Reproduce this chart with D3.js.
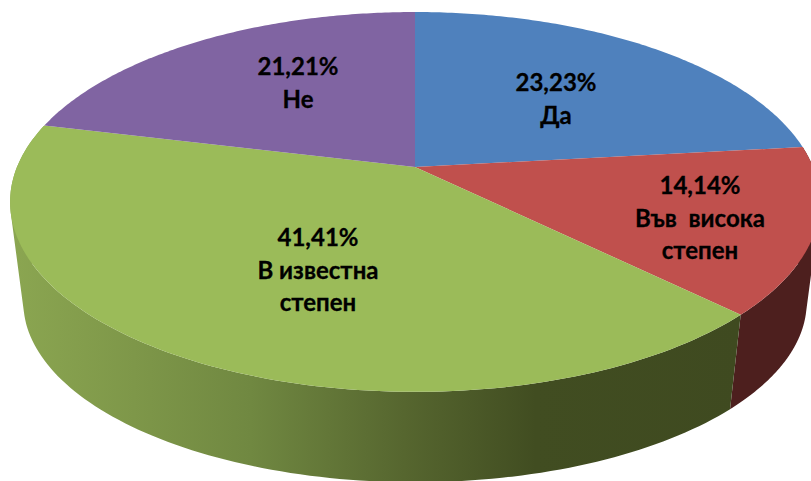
<!DOCTYPE html>
<html>
<head>
<meta charset="utf-8">
<script src="https://cdn.jsdelivr.net/npm/d3@7"></script>
<style>
  html, body { margin: 0; padding: 0; background: #fff; overflow: hidden; }
  svg { display: block; }
</style>
</head>
<body>
<div id="chart"></div>
<script>
// data, clockwise from 12 o'clock
const categories = ["Да", "Във висока степен", "В известна степен", "Не"];
const values = [23.23, 14.14, 41.41, 21.21];
const labelLines = [["Да"], ["Във  висока", "степен"], ["В известна", "степен"], ["Не"]];
const topColors = ["#4f81bd", "#c0504d", "#9bbb59", "#8064a2"];

const width = 811, height = 481;

// label centres (first line), picked by eye
const labelAt = [[556, 83], [700, 186], [318, 238], [298, 67]];
const lineStep = 32.5;

// perspective of the disc: top face and bottom rim
const tilt = 0.184;
const topFace = { x0: 415, y0: 167, a: 398, b: 183.5 };
const bottomRim = { x0: 415, y0: 269, a: 385, b: 174 };

function project(face, angle, r = 1) {
    const u = r * Math.sin(angle), v = -r * Math.cos(angle);
    const w = 1 - tilt * v;
    return [face.x0 + face.a * u / w, face.y0 + face.b * v / w];
}

const rim = (face, a0, a1) => d3.range(0, 1.0001, 1 / 120)
    .map(t => project(face, a0 + (a1 - a0) * t));

const line = d3.line();
const percent = d3.formatLocale({ decimal: ",", thousands: " ", grouping: [3], currency: ["", ""] }).format(".2f");

const arcs = d3.pie().sort(null).value(d => d)(values);

const svg = d3.select("#chart")
    .append("svg")
    .attr("width", width)
    .attr("height", height)
    .attr("viewBox", `0 0 ${width} ${height}`);

// green wall is shaded from left to right
const grad = svg.append("defs").append("linearGradient")
    .attr("id", "greenWall")
    .attr("gradientUnits", "userSpaceOnUse")
    .attr("x1", 10).attr("x2", 740).attr("y1", 0).attr("y2", 0);
grad.selectAll("stop")
    .data([[0, "#8ba651"], [0.17, "#7e9749"], [0.33, "#708841"], [0.54, "#56662f"], [0.72, "#414d21"], [1, "#3f4a20"]])
    .enter().append("stop")
    .attr("offset", d => d[0])
    .attr("stop-color", d => d[1]);

// side walls first, the top face covers whatever is behind it
// one path of many small quads, so the outline follows the disc edge with no seams.
// all quads wound the same way, otherwise they cancel out near the silhouette
const wallFill = { 1: "#4d1f1e", 2: "url(#greenWall)" };
[1, 2].forEach(i => {
    const d = arcs[i];
    const upper = rim(topFace, d.startAngle, d.endAngle);
    const lower = rim(bottomRim, d.startAngle, d.endAngle);
    const quads = d3.pairs(d3.range(upper.length)).map(([a, b]) => {
        const q = [upper[a], upper[b], lower[b], lower[a]];
        if (d3.polygonArea(q) < 0) q.reverse();
        return line(q) + "Z";
    });
    svg.append("path")
        .attr("d", quads.join(""))
        .attr("fill", wallFill[i]);
});

// top face
svg.selectAll(".slice")
    .data(arcs)
    .enter()
    .append("path")
    .attr("class", "slice")
    .attr("d", d => line([project(topFace, 0, 0)].concat(rim(topFace, d.startAngle, d.endAngle))) + "Z")
    .attr("fill", (d, i) => topColors[i]);

// labels
const label = svg.selectAll(".label")
    .data(arcs)
    .enter()
    .append("text")
    .attr("class", "label")
    .attr("text-anchor", "middle")
    .style("font-family", "Lato, 'Open Sans', sans-serif")
    .style("font-size", "24px")
    .style("font-weight", 700)
    .style("fill", "#000")
    .style("stroke", "#000")
    .style("stroke-width", "0.3px");

label.each(function (d, i) {
    const rows = [percent(d.value) + "%"].concat(labelLines[i]);
    d3.select(this).selectAll("tspan")
        .data(rows)
        .enter()
        .append("tspan")
        .attr("xml:space", "preserve")
        .attr("x", labelAt[i][0])
        .attr("y", (r, j) => labelAt[i][1] + 8 + j * lineStep)
        .text(r => r);
});
</script>
</body>
</html>
